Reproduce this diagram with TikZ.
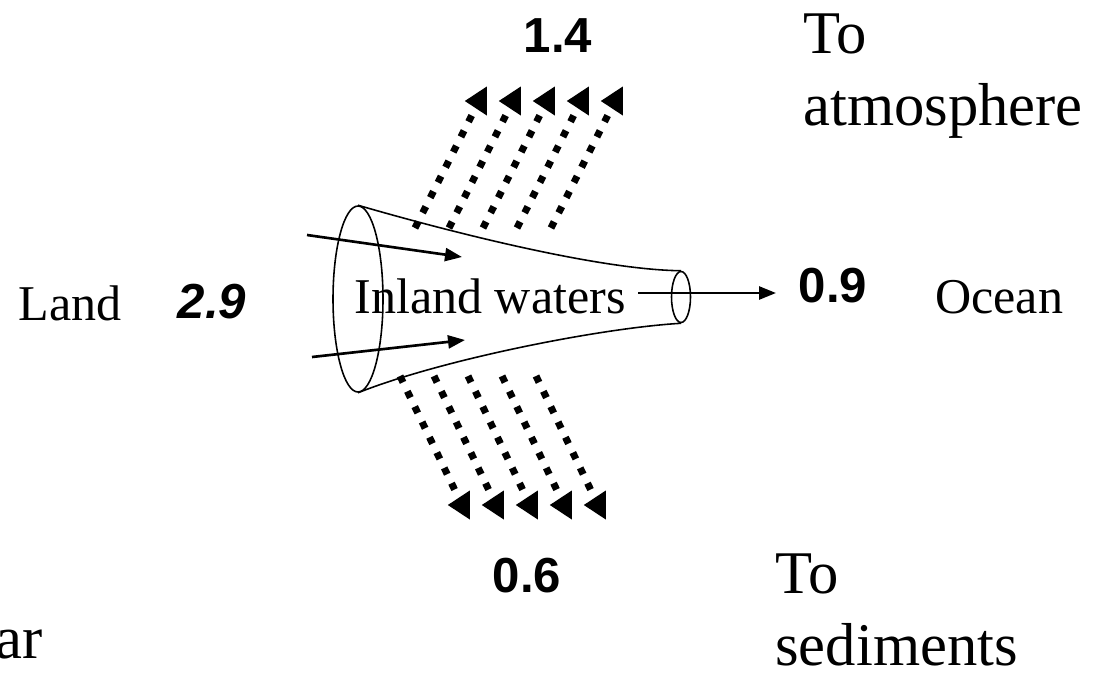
\documentclass[tikz,border=0pt]{standalone}
\usepackage{fontspec}
\setmainfont{Liberation Serif}
\newfontfamily\numfont{Liberation Sans}
\usetikzlibrary{shapes.geometric, arrows.meta, positioning}

\begin{document}
\begin{tikzpicture}[
    x=0.02cm, y=-0.02cm,
    lbl/.style={font=\fontsize{28.5}{34}\selectfont, inner sep=0},
    big/.style={font=\fontsize{34.5}{41}\selectfont, inner sep=0, align=left},
    num/.style={font=\numfont\bfseries\fontsize{28}{34}\selectfont, inner sep=0},
    rim/.style={ellipse, draw, line width=0.9pt, inner sep=0},
    wall/.style={line width=0.9pt},
    arr/.style={-{Triangle[length=0.34cm, width=0.26cm]}, line width=1.5pt},
    flux/.style={line width=0.14cm, dash pattern=on 0.14cm off 0.2cm},
    head/.style={isosceles triangle, isosceles triangle stretches=true, shape border rotate=180, fill=black, inner sep=0, minimum width=0.58cm, minimum height=0.44cm},
]
\useasboundingbox (0,0) rectangle (1111,673);

% Cone
\node[rim, minimum width=1cm, minimum height=3.72cm] (mouth) at (358,299) {};
\node[rim, minimum width=0.38cm, minimum height=1.02cm] (outlet) at (681,297) {};
\draw[wall] (mouth.north) .. controls (450,232) and (600,270) .. (outlet.north);
\draw[wall] (mouth.south) .. controls (440,360) and (600,328) .. (outlet.south);

% Labels
\node[lbl, anchor=base] (inland) at (490,313) {Inland waters};
\node[lbl, anchor=base east] (land) at (122,320) {Land};
\node[num, anchor=base] (landval) at (212,318) {\itshape 2.9};
\node[num, anchor=base] (oceanval) at (833,302) {0.9};
\node[lbl, anchor=base west] (ocean) at (935,313) {Ocean};
\node[num, anchor=base] (atmval) at (558,52) {1.4};
\node[num, anchor=base] (sedval) at (527,592) {0.6};
\node[big, anchor=north west] (atm) at (803,13) {To\\atmosphere};
\node[big, anchor=north west] (sed) at (775,553) {To\\sediments};
\node[big, anchor=base east] (unit) at (43,658) {ar};

% Inflow
\coordinate (in1) at (307,235);
\coordinate (in1e) at (462,257);
\coordinate (in2) at (312,357);
\coordinate (in2e) at (465,340);
\draw[arr] (in1) -- (in1e);
\draw[arr] (in2) -- (in2e);

% Outflow
\coordinate (outs) at (638,293);
\coordinate (oute) at (776,293);
\draw[arr] (outs) -- (oute);

% Fluxes up and down
\foreach \k in {0,...,4} {
  \coordinate (us\k) at (415+34*\k,228);
  \node[head] (uh\k) at (479+34*\k,101) {};
  \draw[flux] (us\k) -- (uh\k);
  \coordinate (ds\k) at (400+34*\k,376);
  \node[head] (dh\k) at (462+34*\k,505) {};
  \draw[flux] (ds\k) -- (dh\k);
}

\end{tikzpicture}
\end{document}
